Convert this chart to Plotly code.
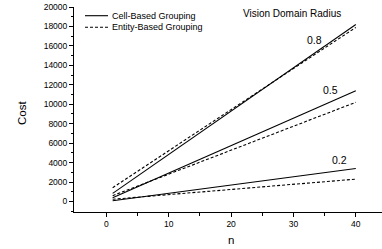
import plotly.graph_objects as go

n_vals = [1, 40]
cell_08 = [840, 18200]
entity_08 = [1420, 17900]
cell_05 = [390, 11400]
entity_05 = [600, 10200]
cell_02 = [80, 3400]
entity_02 = [230, 2300]

radius_labels = ["0.8", "0.5", "0.2"]
label_n = [33.4, 36.0, 37.4]
label_cost = [16600, 11500, 4300]

legend_names = ["Cell-Based Grouping", "Entity-Based Grouping"]

FONT = "Liberation Sans, Arial, sans-serif"

L, R, T, B = 74, 0, 7, 37
W, H = 382, 249
PW, PH = W - L - R, H - T - B


def px(x):
    return (x - L) / PW


def py(y):
    return (H - B - y) / PH


fig = go.Figure()
for ys, dash in [(cell_08, "solid"), (entity_08, "3px,2px"),
                 (cell_05, "solid"), (entity_05, "3px,2px"),
                 (cell_02, "solid"), (entity_02, "3px,2px")]:
    fig.add_trace(go.Scatter(x=n_vals, y=ys, mode="lines",
                             line=dict(color="black", width=1.1, dash=dash),
                             showlegend=False, hoverinfo="skip"))

for t, xv, yv in zip(radius_labels, label_n, label_cost):
    fig.add_annotation(x=xv, y=yv, text=t, showarrow=False,
                       font=dict(family=FONT, size=10.5, color="black"))

# custom legend
leg_y = [15.7, 27.2]
for name, yy, dash in zip(legend_names, leg_y, ["solid", "3px,2px"]):
    fig.add_shape(type="line", xref="paper", yref="paper",
                  x0=px(85), x1=px(108), y0=py(yy), y1=py(yy),
                  line=dict(color="black", width=1.1, dash=dash))
    fig.add_annotation(xref="paper", yref="paper", x=px(110), y=py(yy),
                       xanchor="left", yanchor="middle", text=name,
                       showarrow=False,
                       font=dict(family=FONT, size=9, color="black"))

fig.add_annotation(xref="paper", yref="paper", x=px(292), y=py(13.3),
                   text="Vision Domain Radius", showarrow=False,
                   xanchor="center", yanchor="middle",
                   font=dict(family=FONT, size=10, color="black"))

# axis titles
fig.add_annotation(xref="paper", yref="paper", x=px(231), y=py(240),
                   text="n", showarrow=False, xanchor="center", yanchor="middle",
                   font=dict(family=FONT, size=11.5, color="black"))
fig.add_annotation(xref="paper", yref="paper", x=px(22), y=py(113),
                   text="Cost", showarrow=False, xanchor="center", yanchor="middle",
                   textangle=-90,
                   font=dict(family=FONT, size=11.5, color="black"))

fig.update_layout(
    width=W, height=H,
    margin=dict(l=L, r=R, t=T, b=B, autoexpand=False),
    paper_bgcolor="white", plot_bgcolor="white",
    font=dict(family=FONT, color="black"),
    xaxis=dict(range=[-5.2, 44.2], showgrid=False, zeroline=False,
               showline=True, linecolor="black", linewidth=1, automargin=False,
               ticks="outside", ticklen=4, tickwidth=1, tickcolor="black",
               tickvals=[0, 10, 20, 30, 40],
               minor=dict(tickvals=[5, 15, 25, 35], ticks="outside", ticklen=2.5,
                          tickcolor="black", tickwidth=1),
               tickfont=dict(size=8.5, family=FONT)),
    yaxis=dict(range=[-1080, 20000], showgrid=False, zeroline=False,
               showline=True, linecolor="black", linewidth=1, automargin=False,
               ticks="outside", ticklen=4, tickwidth=1, tickcolor="black",
               tickvals=list(range(0, 20001, 2000)), tickformat="d",
               minor=dict(tickvals=list(range(-1000, 20000, 2000)), ticks="outside",
                          ticklen=2.5, tickcolor="black", tickwidth=1),
               tickfont=dict(size=8.5, family=FONT)),
)

fig.write_html("out.html",
               config={"displayModeBar": False, "staticPlot": True},
               post_script="document.body.style.margin='0';"
                           "document.body.style.padding='0';"
                           "document.body.style.overflow='hidden';")
